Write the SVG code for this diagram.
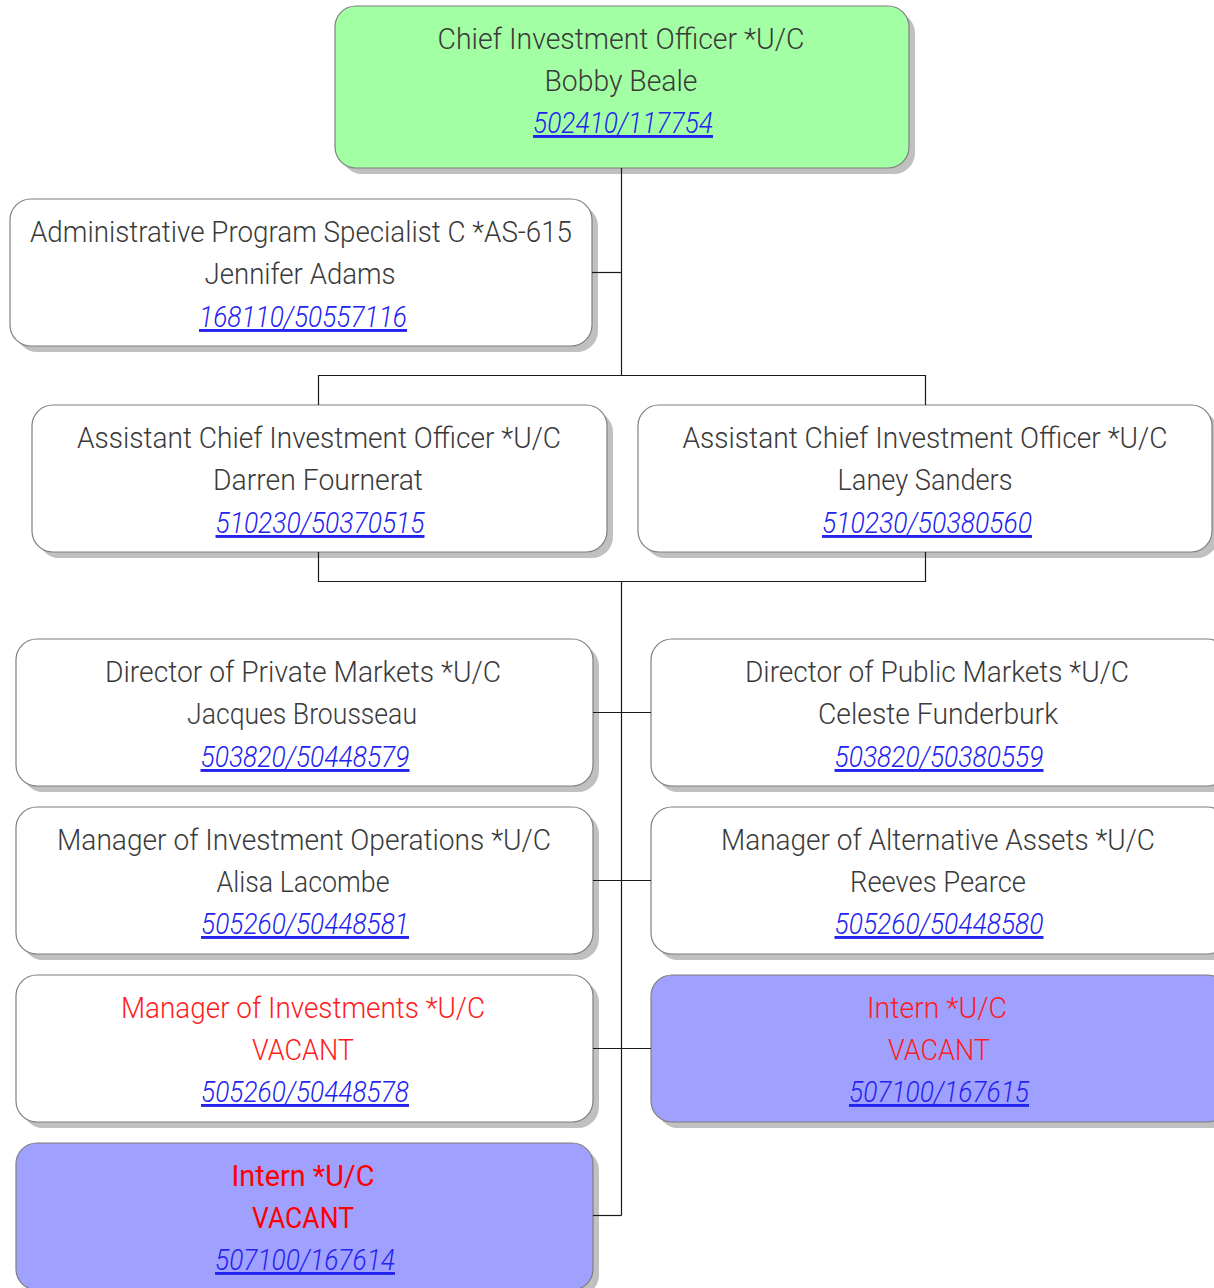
<svg xmlns="http://www.w3.org/2000/svg" width="1214" height="1288" viewBox="0 0 1214 1288">
  <defs>
    <style>
      .shadow { fill: #c0c0c0; }
      .box { fill: #ffffff; stroke: #7f7f7f; stroke-width: 1.2; }
      .box.exec { fill: #a3ffa3; }
      .box.intern { fill: #a0a0ff; }
      text { font-family: Roboto, "Liberation Sans", sans-serif; font-weight: 300; font-size: 29px; text-anchor: middle; }
      .t { fill: #3a3a3a; }
      .vac { fill: #ff1c1c; }
      .vac.strong { fill: #ff0000; font-weight: 400; }
      .num { fill: #2323f0; font-style: italic; text-decoration: underline; }
      .conn { fill: none; stroke: #1a1a1a; stroke-width: 1.2; }
    </style>
  </defs>
  <rect width="1214" height="1288" fill="#ffffff"/>

  <g id="node-cio">
    <rect class="shadow" x="341" y="12" width="574" height="162" rx="21"/>
    <rect class="box exec" x="335" y="6" width="574" height="162" rx="21"/>
    <text class="t" x="621" y="49" textLength="367" lengthAdjust="spacingAndGlyphs">Chief Investment Officer *U/C</text>
    <text class="t" x="621" y="91" textLength="153" lengthAdjust="spacingAndGlyphs">Bobby Beale</text>
    <text class="num" x="623" y="133" textLength="180" lengthAdjust="spacingAndGlyphs">502410/117754</text>
  </g>

  <g id="node-admin">
    <rect class="shadow" x="16" y="205" width="582" height="147" rx="21"/>
    <rect class="box" x="10" y="199" width="582" height="147" rx="21"/>
    <text class="t" x="301" y="242" textLength="542" lengthAdjust="spacingAndGlyphs">Administrative Program Specialist C *AS-615</text>
    <text class="t" x="300" y="284" textLength="191" lengthAdjust="spacingAndGlyphs">Jennifer Adams</text>
    <text class="num" x="303" y="327" textLength="208" lengthAdjust="spacingAndGlyphs">168110/50557116</text>
  </g>

  <g id="node-acio-fournerat">
    <rect class="shadow" x="38" y="411" width="575" height="147" rx="21"/>
    <rect class="box" x="32" y="405" width="575" height="147" rx="21"/>
    <text class="t" x="319" y="448" textLength="484" lengthAdjust="spacingAndGlyphs">Assistant Chief Investment Officer *U/C</text>
    <text class="t" x="318" y="490" textLength="210" lengthAdjust="spacingAndGlyphs">Darren Fournerat</text>
    <text class="num" x="320" y="533" textLength="209" lengthAdjust="spacingAndGlyphs">510230/50370515</text>
  </g>

  <g id="node-acio-sanders">
    <rect class="shadow" x="644" y="411" width="574" height="147" rx="21"/>
    <rect class="box" x="638" y="405" width="574" height="147" rx="21"/>
    <text class="t" x="925" y="448" textLength="485" lengthAdjust="spacingAndGlyphs">Assistant Chief Investment Officer *U/C</text>
    <text class="t" x="925" y="490" textLength="175" lengthAdjust="spacingAndGlyphs">Laney Sanders</text>
    <text class="num" x="927" y="533" textLength="210" lengthAdjust="spacingAndGlyphs">510230/50380560</text>
  </g>

  <g id="node-dir-private">
    <rect class="shadow" x="22" y="645" width="577" height="147" rx="21"/>
    <rect class="box" x="16" y="639" width="577" height="147" rx="21"/>
    <text class="t" x="303" y="682" textLength="396" lengthAdjust="spacingAndGlyphs">Director of Private Markets *U/C</text>
    <text class="t" x="302" y="724" textLength="230" lengthAdjust="spacingAndGlyphs">Jacques Brousseau</text>
    <text class="num" x="305" y="767" textLength="209" lengthAdjust="spacingAndGlyphs">503820/50448579</text>
  </g>

  <g id="node-dir-public">
    <rect class="shadow" x="657" y="645" width="577" height="147" rx="21"/>
    <rect class="box" x="651" y="639" width="577" height="147" rx="21"/>
    <text class="t" x="937" y="682" textLength="384" lengthAdjust="spacingAndGlyphs">Director of Public Markets *U/C</text>
    <text class="t" x="938" y="724" textLength="240" lengthAdjust="spacingAndGlyphs">Celeste Funderburk</text>
    <text class="num" x="939" y="767" textLength="209" lengthAdjust="spacingAndGlyphs">503820/50380559</text>
  </g>

  <g id="node-mgr-operations">
    <rect class="shadow" x="22" y="813" width="577" height="147" rx="21"/>
    <rect class="box" x="16" y="807" width="577" height="147" rx="21"/>
    <text class="t" x="304" y="850" textLength="494" lengthAdjust="spacingAndGlyphs">Manager of Investment Operations *U/C</text>
    <text class="t" x="303" y="892" textLength="173" lengthAdjust="spacingAndGlyphs">Alisa Lacombe</text>
    <text class="num" x="305" y="934" textLength="208" lengthAdjust="spacingAndGlyphs">505260/50448581</text>
  </g>

  <g id="node-mgr-alternatives">
    <rect class="shadow" x="657" y="813" width="577" height="147" rx="21"/>
    <rect class="box" x="651" y="807" width="577" height="147" rx="21"/>
    <text class="t" x="938" y="850" textLength="434" lengthAdjust="spacingAndGlyphs">Manager of Alternative Assets *U/C</text>
    <text class="t" x="938" y="892" textLength="176" lengthAdjust="spacingAndGlyphs">Reeves Pearce</text>
    <text class="num" x="939" y="934" textLength="209" lengthAdjust="spacingAndGlyphs">505260/50448580</text>
  </g>

  <g id="node-mgr-investments">
    <rect class="shadow" x="22" y="981" width="577" height="147" rx="21"/>
    <rect class="box" x="16" y="975" width="577" height="147" rx="21"/>
    <text class="vac" x="303" y="1018" textLength="364" lengthAdjust="spacingAndGlyphs">Manager of Investments *U/C</text>
    <text class="vac" x="303" y="1060" textLength="102" lengthAdjust="spacingAndGlyphs">VACANT</text>
    <text class="num" x="305" y="1102" textLength="208" lengthAdjust="spacingAndGlyphs">505260/50448578</text>
  </g>

  <g id="node-intern-167615">
    <rect class="shadow" x="657" y="981" width="577" height="147" rx="21"/>
    <rect class="box intern" x="651" y="975" width="577" height="147" rx="21"/>
    <text class="vac" x="937" y="1018" textLength="140" lengthAdjust="spacingAndGlyphs">Intern *U/C</text>
    <text class="vac" x="939" y="1060" textLength="102" lengthAdjust="spacingAndGlyphs">VACANT</text>
    <text class="num" x="939" y="1102" textLength="180" lengthAdjust="spacingAndGlyphs">507100/167615</text>
  </g>

  <g id="node-intern-167614">
    <rect class="shadow" x="22" y="1149" width="577" height="147" rx="21"/>
    <rect class="box intern" x="16" y="1143" width="577" height="147" rx="21"/>
    <text class="vac strong" x="303" y="1186" textLength="143" lengthAdjust="spacingAndGlyphs">Intern *U/C</text>
    <text class="vac strong" x="303" y="1228" textLength="102" lengthAdjust="spacingAndGlyphs">VACANT</text>
    <text class="num" x="305" y="1270" textLength="180" lengthAdjust="spacingAndGlyphs">507100/167614</text>
  </g>

  <!-- reporting lines, drawn over the box shadows -->
  <g id="connectors" class="conn">
    <path d="M621.5 168 V375.5"/>
    <path d="M592 272.5 H621.5"/>
    <path d="M318.5 405 V375.5 H925.5 V405"/>
    <path d="M318.5 552 V581.5 H925.5 V552"/>
    <path d="M621.5 581.5 V1215.5"/>
    <path d="M593 712.5 H651"/>
    <path d="M593 880.5 H651"/>
    <path d="M593 1048.5 H651"/>
    <path d="M593 1215.5 H621.5"/>
  </g>
</svg>
